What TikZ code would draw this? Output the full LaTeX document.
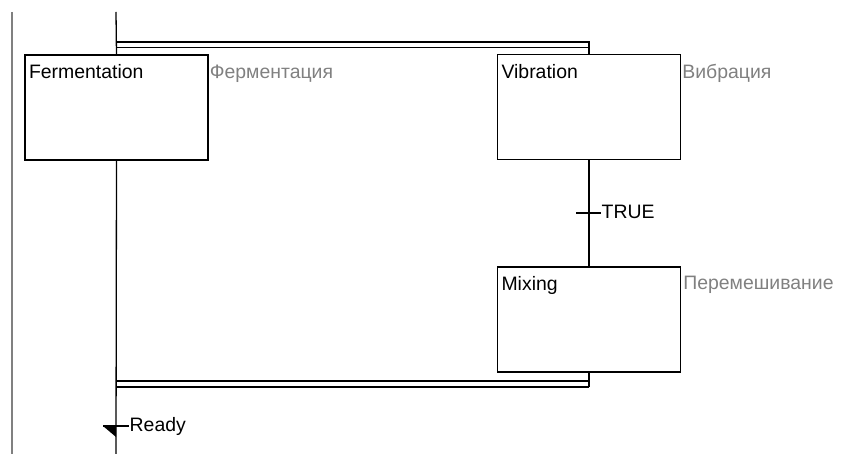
\documentclass[tikz,border=0pt]{standalone}
\usepackage{fontspec}
\setmainfont{Liberation Sans}
\definecolor{cmt}{HTML}{808080}
\begin{document}
\begin{tikzpicture}[x=1bp,y=-1bp,
  wire/.style={draw=black,line width=1.3bp},
  lbl/.style={inner sep=0pt,font=\fontsize{19.5}{22}\selectfont},
  stepbox/.style={draw=black,line width=1.3bp,fill=white,rectangle,minimum width=183bp,minimum height=105bp,inner sep=0pt},
  stepname/.style={lbl,anchor=north west,text=black},
  comment/.style={lbl,anchor=north west,text=cmt},
  trlabel/.style={lbl,anchor=west,text=black}]
\useasboundingbox (0,0) rectangle (842,454);
% left rail
\coordinate (railtop) at (12,12);
\coordinate (railbot) at (12,454);
\draw[draw=cmt,line width=1.5bp] (railtop) -- (railbot);

% main flow coordinates
\coordinate (mtop) at (116,12);
\coordinate (mbot) at (116,454);
\coordinate (dtl) at (116,42);
\coordinate (dtr) at (589,42);
\coordinate (dtl2) at (116,47.5);
\coordinate (dtr2) at (589,47.5);
\coordinate (dbl) at (116,381);
\coordinate (dbr) at (589,381);
\coordinate (dbl2) at (116,387);
\coordinate (dbr2) at (589,387);

% steps
\node[stepbox] (ferm) at (116.5,107.5) {};
\node[stepbox] (vib) at (589,107) {};
\node[stepbox] (mix) at (589,319.5) {};

\node[stepname] (fermname) at ([xshift=4.5bp,yshift=-10bp]ferm.north west) {Fermentation};
\node[stepname] (vibname) at ([xshift=4.5bp,yshift=-10bp]vib.north west) {Vibration};
\node[stepname] (mixname) at ([xshift=4.5bp,yshift=-10bp]mix.north west) {Mixing};

\node[comment] (fermc) at ([xshift=1bp,yshift=-10bp]ferm.north east) {Ферментация};
\node[comment] (vibc) at ([xshift=1bp,yshift=-10bp]vib.north east) {Вибрация};
\node[comment] (mixc) at ([xshift=2bp,yshift=-10bp]mix.north east) {Перемешивание};

% main vertical line
\draw[wire] (mtop) -- (ferm.north);
\draw[wire] (ferm.south) -- (mbot);

% parallel branch start
\draw[wire] (dtl) -- (dtr) -- (vib.north);
\draw[wire] (dtl2) -- (dtr2);

% branch: Vibration -> Mixing with transition TRUE
\draw[wire] (vib.south) -- (mix.north);
\coordinate (t1l) at (576,213);
\coordinate (t1r) at (601,213);
\draw[wire] (t1l) -- (t1r);
\node[trlabel] (truelbl) at (601.5,212) {TRUE};

% parallel branch end
\draw[wire] (mix.south) -- (dbr2);
\draw[wire] (dbl) -- (dbr);
\draw[wire] (dbl2) -- (dbr2);

% transition Ready
\coordinate (rtip) at (116,437);
\coordinate (rleft) at (103,426);
\coordinate (rright) at (129,426);
\fill[black] (rleft) -- (116,426) -- (rtip) -- cycle;
\draw[wire] (rleft) -- (rright);
\node[trlabel] (readylbl) at (129.5,426) {Ready};
\end{tikzpicture}
\end{document}
